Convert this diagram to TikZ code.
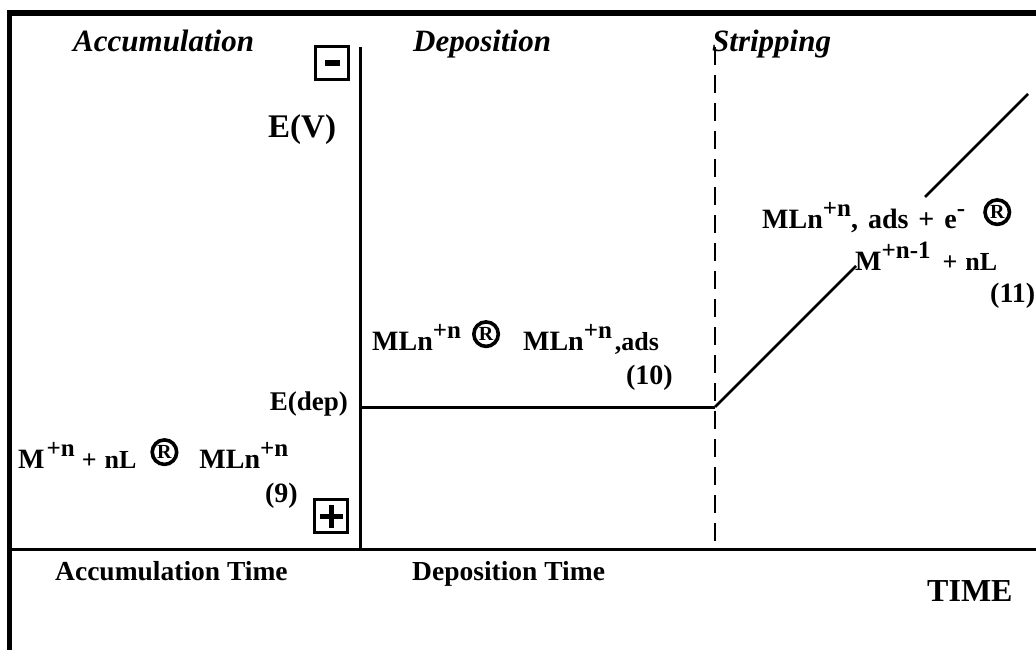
\documentclass[tikz,border=0pt]{standalone}
\usepackage{fontspec}
\setmainfont{Liberation Serif}
\usetikzlibrary{positioning}
\newcommand{\sps}[1]{\raisebox{12pt}{\fontsize{25}{25}\selectfont #1}}
\newcommand{\smt}[1]{{\fontsize{26}{26}\selectfont #1}}
\newcommand{\rarr}{\tikz[baseline=0pt]\node[circle, draw, line width=3.6pt, minimum size=24.5pt, inner sep=0pt, anchor=south] (rr) at (0,1.8pt) {\fontsize{20}{20}\selectfont\bfseries R};}

\begin{document}
\begin{tikzpicture}[x=1pt, y=-1pt, font=\bfseries\fontsize{28}{30}\selectfont,
  phase/.style={font=\bfseries\itshape\fontsize{31}{33}\selectfont, inner sep=0pt, anchor=base west},
  lbl/.style={inner sep=0pt, anchor=base west},
  timelbl/.style={lbl, font=\bfseries\fontsize{27.5}{30}\selectfont},
  signbox/.style={draw, line width=3.5pt, minimum size=33pt, inner sep=0pt},
  axis/.style={line width=3pt}]
  \useasboundingbox (0,0) rectangle (1036,650);
  % frame
  \coordinate (fbl) at (9.5,650);
  \coordinate (ftl) at (9.5,13);
  \coordinate (ftr) at (1040,13);
  \draw[line width=5.5pt] (fbl) -- (ftl) -- (ftr);
  % axes and potential curve
  \coordinate (o) at (360,549);
  \coordinate (ytop) at (360,47);
  \coordinate (xl) at (9,549);
  \coordinate (xr) at (1036,549);
  \coordinate (dep) at (360,407);
  \coordinate (sw) at (715,407);
  \coordinate (swtop) at (715,47);
  \coordinate (swbot) at (715,549);
  \coordinate (lo) at (856,266);
  \coordinate (hi) at (925,197);
  \coordinate (hiend) at (1028,94);
  \draw[axis] (xl) -- (xr);
  \draw[axis] (o) -- (ytop);
  \draw[axis] (dep) -- (sw);
  \draw[line width=2pt, dash pattern=on 18pt off 10pt] (swtop) -- (swbot);
  \draw[line width=2.5pt] (sw) -- (lo);
  \draw[line width=2.5pt] (hi) -- (hiend);
  % phase titles
  \node[phase] (accum) at (73,52) {Accumulation};
  \node[phase] (depos) at (413,52) {Deposition};
  \node[phase] (strip) at (712,52) {Stripping};
  % polarity
  \node[signbox] (minus) at (332,63) {\rule{15pt}{6pt}};
  \node[signbox] (plus) at (331,516) {};
  \draw[line width=5pt] ([xshift=-11.5pt]plus.center) -- ([xshift=11.5pt]plus.center);
  \draw[line width=5pt] ([yshift=-11.5pt]plus.center) -- ([yshift=11.5pt]plus.center);
  % axis labels
  \node[lbl, font=\bfseries\fontsize{33}{35}\selectfont] (ev) at (268,138) {E(V)};
  \node[lbl, anchor=base east, font=\bfseries\fontsize{27}{29}\selectfont] (edep) at (348,410) {E(dep)};
  \node[timelbl] (tacc) at (55,580) {Accumulation Time};
  \node[timelbl] (tdep) at (412,580) {Deposition Time};
  \node[lbl, font=\bfseries\fontsize{32}{34}\selectfont] (ttime) at (927,601) {TIME};
  % reactions
  \node[lbl] (rx9) at (18,468) {M\hspace{2pt}\sps{+n}\hspace{7pt}\smt{+}\hspace{8pt}\smt{nL}\hspace{14pt}\rarr\hspace{21pt}MLn\sps{+n}};
  \node[lbl, anchor=base east] (eq9) at (298,502) {(9)};
  \node[lbl] (rx10) at (372,350) {MLn\sps{+n}\hspace{11pt}\rarr\hspace{23pt}MLn\sps{+n}\hspace{3pt}\smt{,ads}};
  \node[lbl, anchor=base east] (eq10) at (673,384) {(10)};
  \node[lbl] (rx11a) at (762,228) {MLn\sps{+n}, \hspace{3pt}ads\hspace{3pt} + \hspace{3pt}e\sps{-}\hspace{18pt}\rarr};
  \node[lbl] (rx11b) at (855,270) {M\sps{+n-1}\hspace{12pt}\smt{+}\hspace{8pt}\smt{nL}};
  \node[lbl] (eq11) at (990,302) {(11)};
\end{tikzpicture}
\end{document}
